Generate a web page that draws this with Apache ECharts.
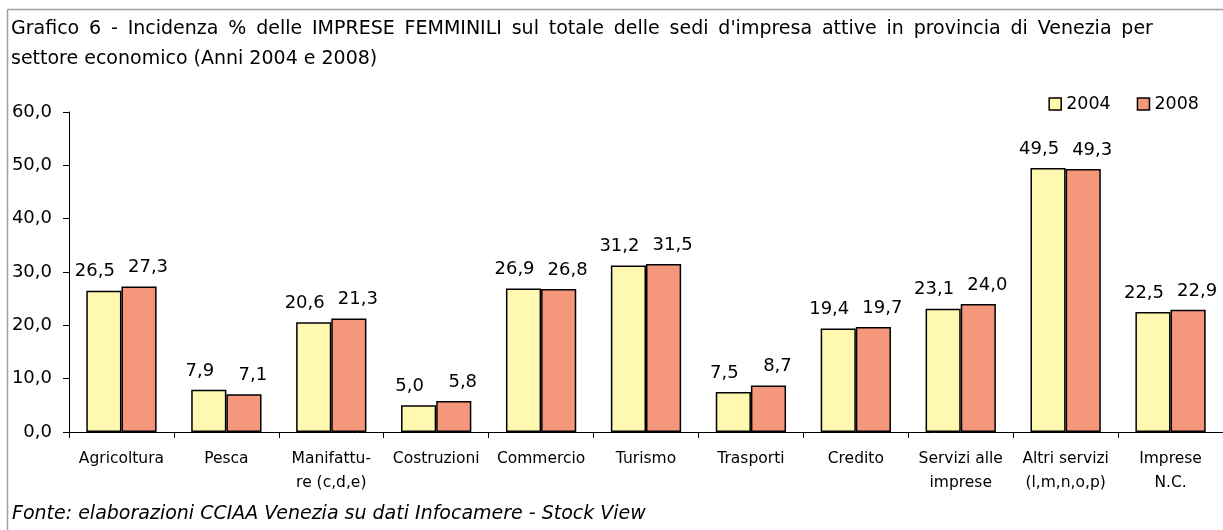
<!DOCTYPE html>
<html>
<head>
<meta charset="utf-8">
<script src="https://cdn.jsdelivr.net/npm/echarts@6/dist/echarts.min.js"></script>
<style>
  html, body { margin: 0; padding: 0; background: #fff; }
  #chart { width: 1223px; height: 530px; }
</style>
</head>
<body>
<div id="chart"></div>
<script>
// settori economici
var categories = ['Agricoltura', 'Pesca', 'Manifattu-\nre (c,d,e)', 'Costruzioni', 'Commercio',
  'Turismo', 'Trasporti', 'Credito', 'Servizi alle\nimprese', 'Altri servizi\n(l,m,n,o,p)', 'Imprese\nN.C.'];
var years = ['2004', '2008'];
var values2004 = [26.5, 7.9, 20.6, 5.0, 26.9, 31.2, 7.5, 19.4, 23.1, 49.5, 22.5];
var values2008 = [27.3, 7.1, 21.3, 5.8, 26.8, 31.5, 8.7, 19.7, 24.0, 49.3, 22.9];

var FONT = '"DejaVu Sans", Verdana, sans-serif';

// prima riga del titolo "giustificata" come nell'originale (spazio + thin space)
var titleLine1 = 'Grafico 6 - Incidenza % delle IMPRESE FEMMINILI sul totale delle sedi d\'impresa attive in provincia di Venezia per'
  .split(' ').join(' \u2009');
var titleLine2 = 'settore economico (Anni 2004 e 2008)';

function fmt(v) {
  return v.toFixed(1).replace('.', ',');
}

var chart = echarts.init(document.getElementById('chart'));

function labelStyle(dx) {
  return {
    show: true,
    position: 'top',
    distance: 10,
    offset: [dx, 0],
    color: '#000',
    fontFamily: FONT,
    fontSize: 18,
    formatter: function (p) { return fmt(p.value); }
  };
}

var option = {
  backgroundColor: '#fff',
  animation: false,
  textStyle: { fontFamily: FONT },
  graphic: [
    // cornice
    { type: 'line', shape: { x1: 7.5, y1: 9.5, x2: 1223, y2: 9.5 }, style: { stroke: '#a0a0a0', lineWidth: 1.5 } },
    { type: 'line', shape: { x1: 7.5, y1: 9.5, x2: 7.5, y2: 530 }, style: { stroke: '#a0a0a0', lineWidth: 1.5 } },
    {
      type: 'text', left: 11, top: 14,
      style: {
        text: titleLine1 + '\n' + titleLine2,
        fill: '#000', fontFamily: FONT, fontSize: 19, lineHeight: 30
      }
    },
    {
      type: 'text', left: 12, top: 505,
      style: {
        text: 'Fonte: elaborazioni CCIAA Venezia su dati Infocamere - Stock View',
        fill: '#000', fontFamily: FONT, fontSize: 19, fontStyle: 'italic'
      }
    }
  ],
  legend: {
    data: years,
    right: 19,
    top: 90,
    itemWidth: 12,
    itemHeight: 12,
    itemGap: 26,
    icon: 'rect',
    itemStyle: { borderColor: '#000', borderWidth: 1.5 },
    textStyle: { fontFamily: FONT, fontSize: 17.5, color: '#000' }
  },
  grid: {
    left: 69,
    right: 0,
    top: 112,
    bottom: 98,
    containLabel: false
  },
  xAxis: {
    type: 'category',
    data: categories,
    axisLine: { lineStyle: { color: '#000', width: 1 } },
    axisTick: { show: true, length: 6, inside: false, lineStyle: { color: '#000' } },
    axisLabel: {
      interval: 0,
      margin: 15,
      color: '#000',
      fontFamily: FONT,
      fontSize: 15.5,
      lineHeight: 24
    }
  },
  yAxis: {
    type: 'value',
    min: 0,
    max: 60,
    interval: 10,
    axisLine: { show: true, lineStyle: { color: '#000', width: 1 } },
    axisTick: { show: true, length: 6, lineStyle: { color: '#000' } },
    splitLine: { show: false },
    axisLabel: {
      margin: 17,
      color: '#000',
      fontFamily: FONT,
      fontSize: 18,
      formatter: function (v) { return fmt(v); }
    }
  },
  series: [
    {
      name: years[0],
      type: 'bar',
      data: values2004,
      barGap: '0%',
      barCategoryGap: '33%',
      itemStyle: { color: '#FFF8B0', borderColor: '#000', borderWidth: 1.5 },
      label: labelStyle(-9)
    },
    {
      name: years[1],
      type: 'bar',
      data: values2008,
      itemStyle: { color: '#F5977A', borderColor: '#000', borderWidth: 1.5 },
      label: labelStyle(9)
    }
  ]
};

chart.setOption(option);
</script>
</body>
</html>
